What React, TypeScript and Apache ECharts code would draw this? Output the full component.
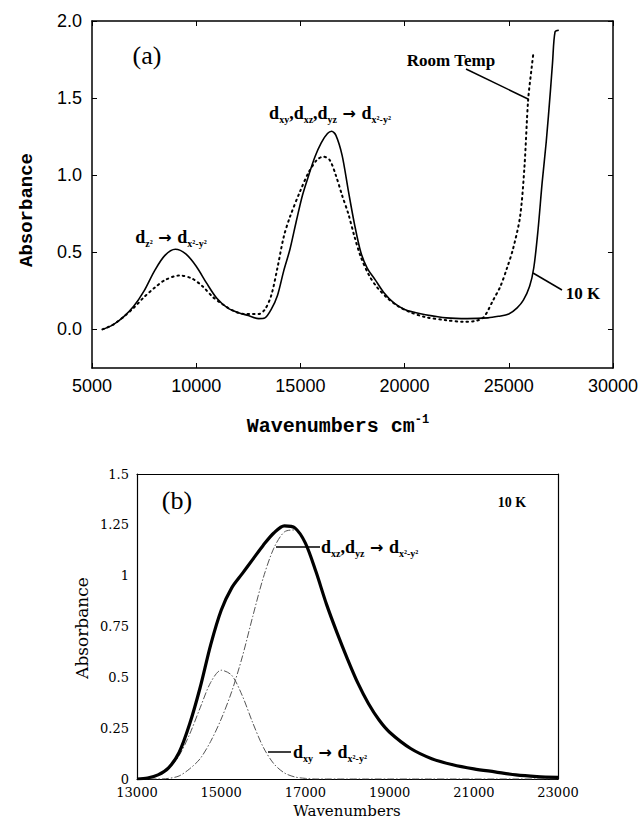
import React, { useEffect, useRef } from 'react';
import * as echarts from 'echarts';

// ---- Panel (a) data ----
const yTicksA = [0, 0.5, 1.0, 1.5, 2.0];

const cold10KX = [5500, 6000, 6500, 7000, 7500, 8000, 8500, 9000, 9500, 10000, 10500, 11000, 11500, 12000, 12500, 13000, 13300, 13600, 13900, 14200, 14500, 14800, 15100, 15400, 15700, 16000, 16300, 16500, 16700, 17000, 17300, 17600, 17900, 18200, 18600, 19000, 19500, 20000, 20500, 21000, 22000, 23000, 24000, 24500, 25000, 25400, 25700, 26000, 26200, 26400, 26600, 26800, 27000, 27100, 27220, 27400];
const cold10KY = [0.0, 0.03, 0.08, 0.15, 0.25, 0.38, 0.48, 0.52, 0.49, 0.41, 0.30, 0.20, 0.14, 0.11, 0.09, 0.07, 0.075, 0.13, 0.22, 0.38, 0.52, 0.70, 0.87, 1.00, 1.12, 1.21, 1.27, 1.285, 1.26, 1.13, 0.90, 0.68, 0.50, 0.40, 0.32, 0.24, 0.17, 0.13, 0.11, 0.095, 0.075, 0.07, 0.075, 0.085, 0.10, 0.14, 0.19, 0.28, 0.40, 0.64, 0.95, 1.22, 1.55, 1.73, 1.93, 1.94];

const roomX = [5500, 6000, 6500, 7000, 7500, 8000, 8500, 9200, 9800, 10300, 10800, 11300, 11800, 12300, 12700, 13000, 13300, 13600, 13900, 14200, 14500, 15000, 15400, 15800, 16100, 16400, 16700, 17000, 17300, 17600, 17900, 18300, 18700, 19200, 19700, 20300, 21000, 22000, 22800, 23400, 23800, 24250, 24600, 24920, 25200, 25540, 25750, 25930, 26100, 26170];
const roomY = [0.0, 0.03, 0.08, 0.14, 0.21, 0.27, 0.32, 0.35, 0.33, 0.28, 0.21, 0.16, 0.12, 0.10, 0.10, 0.10, 0.13, 0.22, 0.40, 0.60, 0.73, 0.90, 1.02, 1.10, 1.12, 1.10, 1.00, 0.87, 0.75, 0.60, 0.47, 0.35, 0.27, 0.20, 0.15, 0.11, 0.08, 0.06, 0.05, 0.055, 0.08, 0.19, 0.28, 0.40, 0.52, 0.73, 1.05, 1.49, 1.70, 1.78];

// ---- Panel (b) data ----
const botX = [13000, 13250, 13500, 13750, 14000, 14250, 14500, 14750, 15000, 15250, 15500, 15750, 16000, 16250, 16500, 16750, 17000, 17250, 17500, 17750, 18000, 18250, 18500, 18750, 19000, 19500, 20000, 20500, 21000, 21500, 22000, 22500, 23000];
const botTotal = [0.0, 0.005, 0.02, 0.055, 0.13, 0.27, 0.45, 0.66, 0.83, 0.94, 1.01, 1.08, 1.15, 1.21, 1.245, 1.235, 1.16, 1.02, 0.86, 0.72, 0.59, 0.47, 0.37, 0.29, 0.23, 0.15, 0.10, 0.07, 0.05, 0.035, 0.02, 0.012, 0.008];
const botDxy = [0.0, 0.005, 0.019, 0.05, 0.115, 0.22, 0.35, 0.475, 0.535, 0.51, 0.41, 0.276, 0.156, 0.075, 0.03, 0.01, 0.003, 0, 0, 0, 0, 0, 0, 0, 0, 0, 0, 0, 0, 0, 0, 0, 0];
const botDxzDyz = [0.0, 0.0, 0.0, 0.003, 0.015, 0.05, 0.10, 0.185, 0.295, 0.43, 0.60, 0.80, 0.99, 1.135, 1.215, 1.225, 1.157, 1.02, 0.86, 0.72, 0.59, 0.47, 0.37, 0.29, 0.23, 0.15, 0.10, 0.07, 0.05, 0.035, 0.02, 0.012, 0.008];

const zip = (xs: number[], ys: number[]) => xs.map((x, i) => [x, ys[i]]);

const SERIF = 'Liberation Serif';
const dRich = {
  d: { fontSize: 18, fontWeight: 'bold', fontFamily: SERIF, fill: '#000', lineHeight: 22 },
  s: { fontSize: 10, fontWeight: 'bold', fontFamily: SERIF, fill: '#000', verticalAlign: 'bottom', lineHeight: 12 },
  a: { fontSize: 16, fontWeight: 'bold', fontFamily: 'DejaVu Sans', fill: '#000', lineHeight: 22 },
};

export default function App() {
  const ref = useRef<HTMLDivElement>(null);
  useEffect(() => {
    if (!ref.current) return;
    const chart = echarts.init(ref.current, null, { renderer: 'svg' });
    const blackAxis = { show: true, onZero: false, lineStyle: { color: '#000', width: 1.5 } };
    const plain = (v: number) => String(v);
    const option: any = {
      animation: false,
      backgroundColor: '#fff',
      grid: [
        { left: 92, top: 21, width: 521, height: 347 },
        { left: 137, top: 474, width: 421, height: 305 },
      ],
      xAxis: [
        {
          gridIndex: 0, type: 'value', min: 5000, max: 30000, interval: 5000, position: 'bottom',
          axisLine: blackAxis,
          axisTick: { show: true, inside: true, length: 5, lineStyle: { color: '#000' } },
          axisLabel: { color: '#000', fontSize: 18, fontFamily: 'Liberation Sans', margin: 9, formatter: plain },
          splitLine: { show: false },
        },
        {
          gridIndex: 0, type: 'value', min: 5000, max: 30000, interval: 5000, position: 'top',
          axisLine: blackAxis,
          axisTick: { show: true, inside: true, length: 5, lineStyle: { color: '#000' } },
          axisLabel: { show: false },
          splitLine: { show: false },
        },
        {
          gridIndex: 1, type: 'value', min: 13000, max: 23000, interval: 2000, position: 'bottom',
          axisLine: { show: true, onZero: false, lineStyle: { color: '#000', width: 1.2 } },
          axisTick: { show: false },
          axisLabel: { color: '#000', fontSize: 13, fontFamily: 'DejaVu Serif', margin: 7, formatter: plain },
          splitLine: { show: false },
        },
        {
          gridIndex: 1, type: 'value', min: 13000, max: 23000, interval: 2000, position: 'top',
          axisLine: { show: true, onZero: false, lineStyle: { color: '#000', width: 1.2 } },
          axisTick: { show: false }, axisLabel: { show: false }, splitLine: { show: false },
        },
      ],
      yAxis: [
        {
          gridIndex: 0, type: 'value', min: -0.25, max: 2.0, interval: 0.25, position: 'left',
          axisLine: blackAxis,
          axisTick: { show: true, inside: true, length: 5, lineStyle: { color: '#000' }, customValues: yTicksA },
          axisLabel: { color: '#000', fontSize: 18, fontFamily: 'Liberation Sans', margin: 10, customValues: yTicksA, formatter: (v: number) => v.toFixed(1) },
          splitLine: { show: false },
        },
        {
          gridIndex: 0, type: 'value', min: -0.25, max: 2.0, interval: 0.25, position: 'right',
          axisLine: blackAxis,
          axisTick: { show: true, inside: true, length: 5, lineStyle: { color: '#000' }, customValues: yTicksA },
          axisLabel: { show: false },
          splitLine: { show: false },
        },
        {
          gridIndex: 1, type: 'value', min: 0, max: 1.5, interval: 0.25, position: 'left',
          axisLine: { show: true, onZero: false, lineStyle: { color: '#000', width: 1.2 } },
          axisTick: { show: false },
          axisLabel: { color: '#000', fontSize: 13, fontFamily: 'DejaVu Serif', margin: 8 },
          splitLine: { show: false },
        },
        {
          gridIndex: 1, type: 'value', min: 0, max: 1.5, interval: 0.25, position: 'right',
          axisLine: { show: true, onZero: false, lineStyle: { color: '#000', width: 1.2 } },
          axisTick: { show: false }, axisLabel: { show: false }, splitLine: { show: false },
        },
      ],
      series: [
        {
          name: '10 K', type: 'line', xAxisIndex: 0, yAxisIndex: 0, data: zip(cold10KX, cold10KY),
          showSymbol: false, smooth: 0.3,
          lineStyle: { color: '#000', width: 1.6 },
        },
        {
          name: 'Room Temp', type: 'line', xAxisIndex: 0, yAxisIndex: 0, data: zip(roomX, roomY),
          showSymbol: false, smooth: 0.3,
          lineStyle: { color: '#000', width: 2, type: [1.5, 4], cap: 'round' },
        },
        {
          name: 'dxy', type: 'line', xAxisIndex: 2, yAxisIndex: 2, data: zip(botX, botDxy),
          showSymbol: false, smooth: 0.3,
          lineStyle: { color: '#555', width: 1, type: [7, 2, 1.5, 2] },
        },
        {
          name: 'dxz,dyz', type: 'line', xAxisIndex: 2, yAxisIndex: 2, data: zip(botX, botDxzDyz),
          showSymbol: false, smooth: 0.3,
          lineStyle: { color: '#555', width: 1, type: [7, 2, 1.5, 2] },
        },
        {
          name: 'total', type: 'line', xAxisIndex: 2, yAxisIndex: 2, data: zip(botX, botTotal),
          showSymbol: false, smooth: 0.3,
          lineStyle: { color: '#000', width: 3.2 },
        },
      ],
      graphic: [
        // panel (a) titles
        { type: 'text', x: 27, y: 210, rotation: Math.PI / 2,
          style: { text: 'Absorbance', fontSize: 19, fontWeight: 'bold', fontFamily: 'Liberation Mono', fill: '#000', align: 'center', verticalAlign: 'middle' } },
        { type: 'text', x: 338, y: 426,
          style: { text: '{m|Wavenumbers cm}{p|-1}', align: 'center', verticalAlign: 'middle',
            rich: {
              m: { fontSize: 20, fontWeight: 'bold', fontFamily: 'Liberation Mono', fill: '#000', lineHeight: 24 },
              p: { fontSize: 12, fontWeight: 'bold', fontFamily: 'Liberation Mono', fill: '#000', verticalAlign: 'top', lineHeight: 12 },
            } } },
        { type: 'text', x: 147, y: 55,
          style: { text: '(a)', fontSize: 26, fontFamily: SERIF, fill: '#000', align: 'center', verticalAlign: 'middle' } },
        { type: 'text', x: 171, y: 237,
          style: { text: '{d|d}{s|z²}{a| → }{d|d}{s|x²-y²}', align: 'center', verticalAlign: 'middle', rich: dRich } },
        { type: 'text', x: 330, y: 113,
          style: { text: '{d|d}{s|xy}{d|,d}{s|xz}{d|,d}{s|yz}{a| → }{d|d}{s|x²-y²}', align: 'center', verticalAlign: 'middle', rich: dRich } },
        { type: 'text', x: 451, y: 60,
          style: { text: 'Room Temp', fontSize: 17, fontWeight: 'bold', fontFamily: SERIF, fill: '#000', align: 'center', verticalAlign: 'middle' } },
        { type: 'line', shape: { x1: 466, y1: 69, x2: 528, y2: 99 }, style: { stroke: '#000', lineWidth: 1.5 } },
        { type: 'text', x: 583, y: 293,
          style: { text: '10 K', fontSize: 17, fontWeight: 'bold', fontFamily: SERIF, fill: '#000', align: 'center', verticalAlign: 'middle' } },
        { type: 'line', shape: { x1: 533, y1: 273, x2: 562, y2: 290 }, style: { stroke: '#000', lineWidth: 1.5 } },
        // panel (b)
        { type: 'text', x: 82, y: 628, rotation: Math.PI / 2,
          style: { text: 'Absorbance', fontSize: 17, fontFamily: 'DejaVu Serif', fill: '#000', align: 'center', verticalAlign: 'middle' } },
        { type: 'text', x: 347, y: 811,
          style: { text: 'Wavenumbers', fontSize: 15, fontFamily: 'DejaVu Serif', fill: '#000', align: 'center', verticalAlign: 'middle' } },
        { type: 'text', x: 177, y: 500,
          style: { text: '(b)', fontSize: 26, fontFamily: SERIF, fill: '#000', align: 'center', verticalAlign: 'middle' } },
        { type: 'text', x: 512, y: 502,
          style: { text: '10 K', fontSize: 14, fontWeight: 'bold', fontFamily: SERIF, fill: '#000', align: 'center', verticalAlign: 'middle' } },
        { type: 'line', shape: { x1: 276, y1: 547, x2: 320, y2: 547 }, style: { stroke: '#000', lineWidth: 1.5 } },
        { type: 'text', x: 321, y: 547,
          style: { text: '{d|d}{s|xz}{d|,d}{s|yz}{a| → }{d|d}{s|x²-y²}', align: 'left', verticalAlign: 'middle', rich: dRich } },
        { type: 'line', shape: { x1: 268, y1: 752, x2: 291, y2: 752 }, style: { stroke: '#000', lineWidth: 1.5 } },
        { type: 'text', x: 293, y: 752,
          style: { text: '{d|d}{s|xy}{a| → }{d|d}{s|x²-y²}', align: 'left', verticalAlign: 'middle', rich: dRich } },
      ],
    };
    chart.setOption(option);
    return () => chart.dispose();
  }, []);
  return <div ref={ref} style={{ position: 'absolute', left: 0, top: 0, width: 641, height: 820, background: '#fff' }} />;
}
